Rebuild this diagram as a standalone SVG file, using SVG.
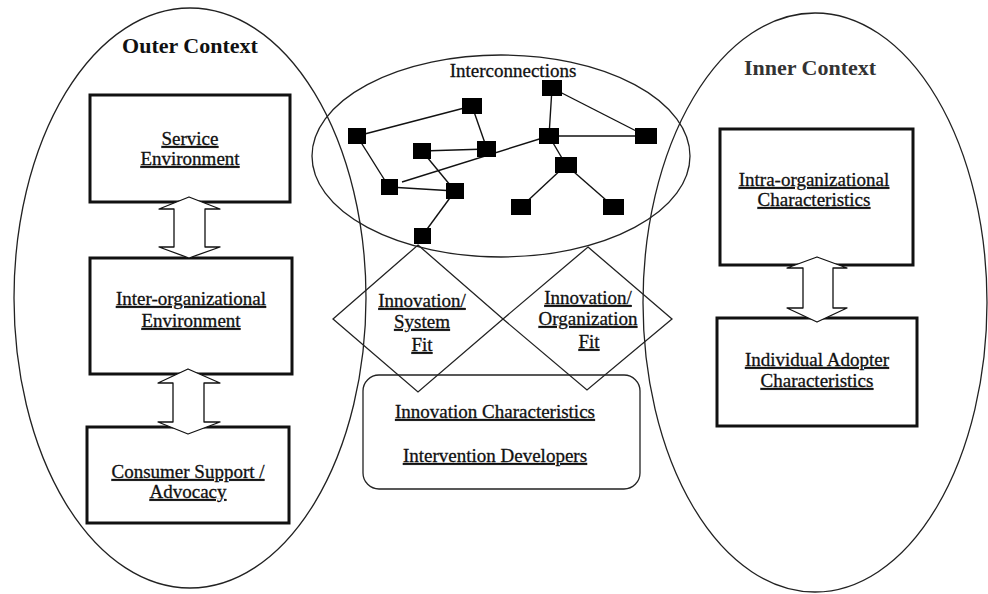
<svg xmlns="http://www.w3.org/2000/svg" width="988" height="594" viewBox="0 0 988 594">
<defs>
<style>
.ctx{fill:none;stroke:#222;stroke-width:1.3}
.box{fill:#fff;stroke:#111;stroke-width:3}
.thin{fill:none;stroke:#222;stroke-width:1.3}
.arr{fill:#fff;stroke:#111;stroke-width:1.3;stroke-linejoin:round}
.nd{fill:#000}
.ln{stroke:#111;stroke-width:1.4;fill:none}
.lbl{font-family:"Liberation Serif","Times New Roman",serif;font-size:19px;fill:#111;stroke:#111;stroke-width:0.3;text-anchor:middle;text-decoration:underline}
.plain{font-family:"Liberation Serif","Times New Roman",serif;font-size:19px;fill:#111;stroke:#111;stroke-width:0.3;text-anchor:middle}
.title{font-family:"Liberation Serif","Times New Roman",serif;font-size:22px;font-weight:bold;text-anchor:middle}
</style>
</defs>
<rect width="988" height="594" fill="#fff"/>

<g id="outer-context">
<ellipse class="ctx" cx="190" cy="298" rx="176" ry="290"/>
<text class="title" x="190" y="53" fill="#111">Outer Context</text>
</g>

<g id="inner-context">
<ellipse class="ctx" cx="815" cy="302.5" rx="172" ry="289.5"/>
<text class="title" x="810" y="75" fill="#333">Inner Context</text>
</g>

<g id="interconnections">
<ellipse class="ctx" cx="501" cy="156" rx="189" ry="101"/>
<text class="plain" x="513" y="77">Interconnections</text>
</g>

<g id="innovation-system-fit">
<polygon class="thin" points="418,245 503,319 418,392 333,319"/>
<text class="lbl" x="422" y="307">Innovation/</text>
<text class="lbl" x="422" y="328">System</text>
<text class="lbl" x="422" y="351">Fit</text>
</g>

<g id="innovation-organization-fit">
<polygon class="thin" points="588,247 672,319 587,390 503,319"/>
<text class="lbl" x="588" y="304">Innovation/</text>
<text class="lbl" x="588" y="325">Organization</text>
<text class="lbl" x="589" y="348">Fit</text>
</g>

<g id="innovation-characteristics">
<rect class="thin" x="363" y="375" width="277" height="114" rx="16"/>
<text class="lbl" x="495" y="418">Innovation Characteristics</text>
<text class="lbl" x="495" y="462">Intervention Developers</text>
</g>

<g id="service-environment">
<rect class="box" x="90" y="95" width="200" height="107"/>
<text class="lbl" x="190" y="145">Service</text>
<text class="lbl" x="190" y="165">Environment</text>
</g>

<g id="inter-organizational-environment">
<rect class="box" x="90" y="258" width="202" height="116"/>
<text class="lbl" x="191" y="305">Inter-organizational</text>
<text class="lbl" x="191" y="327">Environment</text>
</g>

<g id="consumer-support">
<rect class="box" x="87" y="427" width="202" height="96"/>
<text class="lbl" x="188" y="478">Consumer Support /</text>
<text class="lbl" x="188" y="498">Advocacy</text>
</g>

<g id="intra-organizational">
<rect class="box" x="720" y="129" width="193" height="136"/>
<text class="lbl" x="814" y="186">Intra-organizational</text>
<text class="lbl" x="814" y="206">Characteristics</text>
</g>

<g id="individual-adopter">
<rect class="box" x="717" y="318" width="200" height="108"/>
<text class="lbl" x="817" y="366">Individual Adopter</text>
<text class="lbl" x="817" y="387">Characteristics</text>
</g>

<g id="connectors">
<polygon class="arr" points="189,197 220,209 205,209 205,247 220,247 189,258 159,247 174,247 174,209 159,209"/>
<polygon class="arr" points="188,369 220,383 204,383 204,422 220,422 188,434 158,422 173,422 173,383 158,383"/>
<polygon class="arr" points="817,257 847,268 833,268 833,308 847,308 817,322 787,308 803,308 803,268 787,268"/>
</g>

<g id="network">
<g id="network-links">
<line class="ln" x1="357" y1="136" x2="472" y2="106"/>
<line class="ln" x1="357" y1="136" x2="389" y2="187"/>
<line class="ln" x1="472" y1="106" x2="487" y2="149"/>
<line class="ln" x1="422" y1="151" x2="487" y2="149"/>
<line class="ln" x1="422" y1="151" x2="455" y2="191"/>
<line class="ln" x1="389" y1="187" x2="455" y2="191"/>
<line class="ln" x1="402" y1="182" x2="549" y2="136"/>
<line class="ln" x1="455" y1="191" x2="422" y2="236"/>
<line class="ln" x1="552" y1="88" x2="549" y2="136"/>
<line class="ln" x1="552" y1="88" x2="646" y2="136"/>
<line class="ln" x1="549" y1="136" x2="646" y2="136"/>
<line class="ln" x1="549" y1="136" x2="566" y2="165"/>
<line class="ln" x1="566" y1="165" x2="521" y2="207"/>
<line class="ln" x1="566" y1="165" x2="614" y2="207"/>
</g>
<rect id="n1" class="nd" x="348" y="128" width="18" height="16"/>
<rect id="n2" class="nd" x="462" y="98" width="20" height="16"/>
<rect id="n3" class="nd" x="413" y="143" width="18" height="16"/>
<rect id="n4" class="nd" x="477" y="141" width="19" height="16"/>
<rect id="n5" class="nd" x="381" y="179" width="17" height="16"/>
<rect id="n6" class="nd" x="446" y="183" width="18" height="16"/>
<rect id="n7" class="nd" x="414" y="228" width="17" height="16"/>
<rect id="n8" class="nd" x="542" y="80" width="20" height="16"/>
<rect id="n9" class="nd" x="539" y="128" width="20" height="16"/>
<rect id="n10" class="nd" x="635" y="128" width="22" height="16"/>
<rect id="n11" class="nd" x="555" y="157" width="22" height="16"/>
<rect id="n12" class="nd" x="511" y="199" width="20" height="16"/>
<rect id="n13" class="nd" x="603" y="199" width="21" height="16"/>
</g>
</svg>
